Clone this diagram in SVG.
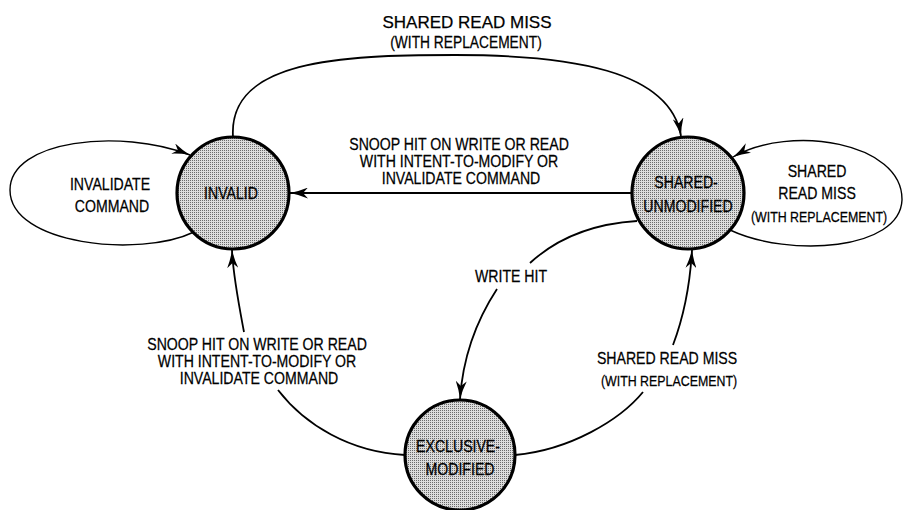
<svg xmlns="http://www.w3.org/2000/svg" width="906" height="510" viewBox="0 0 906 510">
  <style>
    .t { font-family: "Liberation Sans", Arial, sans-serif; font-size: 16.5px; fill: #000; stroke: #000; stroke-width: 0.25; text-anchor: middle; }
    .s { font-size: 14.5px; }
    .node { fill: url(#dots); stroke: #000; stroke-width: 3.2; }
    .edge { fill: none; stroke: #000; stroke-width: 1.8; }
    .loop { fill: none; stroke: #000; stroke-width: 1.4; }
  </style>
  <defs>
    <pattern id="dots" patternUnits="userSpaceOnUse" width="2" height="2">
      <rect width="2" height="2" fill="#dcdcdc"/>
      <rect width="1" height="1" fill="#6a6a6a"/>
    </pattern>
    <marker id="arrow" markerUnits="userSpaceOnUse" viewBox="0 0 18 11" refX="18" refY="5.5" markerWidth="18" markerHeight="11" orient="auto">
      <path d="M0,0 Q9,3.8 18,5.5 Q9,7.2 0,11 L5,5.5 Z" fill="#000"/>
    </marker>
  </defs>
  <rect width="906" height="510" fill="#ffffff"/>

  <g id="connectors">
    <!-- INVALID -> SHARED-UNMODIFIED (top arc) -->
    <path class="edge" d="M233,137 C228,60 340,55 455,55 C570,55 670,70 681,136" marker-end="url(#arrow)"/>
    <!-- SHARED-UNMODIFIED -> INVALID (horizontal) -->
    <path class="edge" d="M632,193 L290,193" marker-end="url(#arrow)"/>
    <!-- INVALID self loop -->
    <path class="loop" d="M194,232 C140,258 10,245 10,190 C10,140 120,128 190,155" marker-end="url(#arrow)"/>
    <!-- SHARED-UNMODIFIED self loop -->
    <path class="loop" d="M730,230 C790,258 900,250 902,200 C903,142 790,124 733,157" marker-end="url(#arrow)"/>
    <!-- SHARED-UNMODIFIED -> EXCLUSIVE-MODIFIED (write hit) -->
    <path class="edge" d="M637,221 C590,224 555,240 530,263"/>
    <path class="edge" d="M497,289 C478,318 463,355 460,399" marker-end="url(#arrow)"/>
    <!-- EXCLUSIVE-MODIFIED -> SHARED-UNMODIFIED -->
    <path class="edge" d="M515,455 C570,450 620,420 643,392"/>
    <path class="edge" d="M673,345 C684,316 690,285 692,250" marker-end="url(#arrow)"/>
    <!-- EXCLUSIVE-MODIFIED -> INVALID -->
    <path class="edge" d="M405,455 C350,452 305,425 278,390"/>
    <path class="edge" d="M244,332 C238,300 233,275 232,250" marker-end="url(#arrow)"/>
  </g>

  <g id="labels">
    <text class="t" style="font-size:17px" x="467" y="28">SHARED READ MISS</text>
    <text class="t" transform="translate(466 48) scale(0.835 1)">(WITH REPLACEMENT)</text>

    <text class="t" transform="translate(461 150) scale(0.855 1)">
      <tspan x="0" y="0">SNOOP HIT ON WRITE OR READ</tspan>
      <tspan x="0" y="17">WITH INTENT-TO-MODIFY OR</tspan>
      <tspan x="0" y="34">INVALIDATE COMMAND</tspan>
    </text>

    <text class="t" transform="translate(112 190) scale(0.855 1)">
      <tspan x="0" y="0">INVALIDATE</tspan>
      <tspan x="0" y="22">COMMAND</tspan>
    </text>

    <text class="t" transform="translate(819 177) scale(0.855 1)">
      <tspan x="0" y="0">SHARED</tspan>
      <tspan x="0" y="22">READ MISS</tspan>
      <tspan class="s" x="0" y="45">(WITH REPLACEMENT)</tspan>
    </text>

    <text class="t" transform="translate(511 282) scale(0.855 1)">WRITE HIT</text>

    <text class="t" transform="translate(259 350) scale(0.855 1)">
      <tspan x="0" y="0">SNOOP HIT ON WRITE OR READ</tspan>
      <tspan x="0" y="17">WITH INTENT-TO-MODIFY OR</tspan>
      <tspan x="0" y="34">INVALIDATE COMMAND</tspan>
    </text>

    <text class="t" transform="translate(669 364) scale(0.855 1)">
      <tspan x="0" y="0">SHARED READ MISS</tspan>
      <tspan class="s" x="0" y="22">(WITH REPLACEMENT)</tspan>
    </text>
  </g>

  <g id="invalid">
    <circle class="node" cx="233" cy="193" r="56"/>
    <text class="t" transform="translate(231 199) scale(0.855 1)">INVALID</text>
  </g>

  <g id="shared-unmodified">
    <circle class="node" cx="688" cy="193" r="56"/>
    <text class="t" transform="translate(688 188) scale(0.855 1)">
      <tspan x="0" y="0">SHARED-</tspan>
      <tspan x="0" y="24">UNMODIFIED</tspan>
    </text>
  </g>

  <g id="exclusive-modified">
    <circle class="node" cx="460" cy="455" r="55"/>
    <text class="t" transform="translate(460 452) scale(0.855 1)">
      <tspan x="0" y="0">EXCLUSIVE-</tspan>
      <tspan x="0" y="23">MODIFIED</tspan>
    </text>
  </g>
</svg>
